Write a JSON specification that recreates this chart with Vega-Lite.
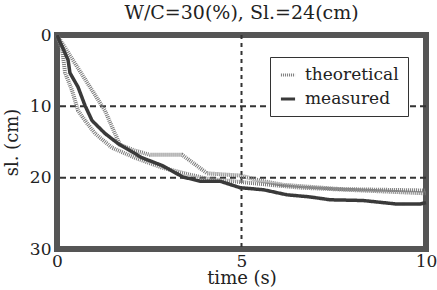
{
  "$schema": "https://vega.github.io/schema/vega-lite/v6.json",
  "width": 369,
  "height": 214,
  "autosize": {"type": "none"},
  "padding": {"left": 57, "top": 35, "right": 11, "bottom": 41},
  "title": {"text": "W/C=30(%), Sl.=24(cm)", "font": "DejaVu Serif", "fontSize": 19, "fontWeight": "normal", "color": "#222", "offset": 3},
  "config": {
    "view": {"stroke": "#555555", "strokeWidth": 6},
    "font": "DejaVu Serif",
    "axis": {"labelFont": "DejaVu Serif", "titleFont": "DejaVu Serif", "labelColor": "#222", "titleColor": "#222", "labelFontSize": 17, "titleFontSize": 18, "titleFontWeight": "normal", "ticks": false, "domain": false, "grid": false}
  },
  "datasets": {
    "curves": [
      {"type": "theoretical", "run": "tA", "t": 0, "sl": 0},
      {"type": "theoretical", "run": "tA", "t": 1.30, "sl": 10.6},
      {"type": "theoretical", "run": "tA", "t": 1.57, "sl": 13.8},
      {"type": "theoretical", "run": "tA", "t": 1.71, "sl": 15.4},
      {"type": "theoretical", "run": "tA", "t": 2.11, "sl": 16.2},
      {"type": "theoretical", "run": "tA", "t": 2.52, "sl": 16.8},
      {"type": "theoretical", "run": "tA", "t": 3.39, "sl": 16.8},
      {"type": "theoretical", "run": "tA", "t": 4.07, "sl": 19.4},
      {"type": "theoretical", "run": "tA", "t": 4.96, "sl": 19.7},
      {"type": "theoretical", "run": "tA", "t": 5.50, "sl": 20.4},
      {"type": "theoretical", "run": "tA", "t": 6.12, "sl": 21.0},
      {"type": "theoretical", "run": "tA", "t": 7.67, "sl": 21.6},
      {"type": "theoretical", "run": "tA", "t": 10, "sl": 21.8},
      {"type": "theoretical", "run": "tB", "t": 0, "sl": 0},
      {"type": "theoretical", "run": "tB", "t": 0.14, "sl": 2.1},
      {"type": "theoretical", "run": "tB", "t": 0.22, "sl": 5.3},
      {"type": "theoretical", "run": "tB", "t": 0.41, "sl": 7.8},
      {"type": "theoretical", "run": "tB", "t": 0.57, "sl": 10.6},
      {"type": "theoretical", "run": "tB", "t": 0.76, "sl": 12.0},
      {"type": "theoretical", "run": "tB", "t": 1.03, "sl": 13.8},
      {"type": "theoretical", "run": "tB", "t": 1.49, "sl": 15.8},
      {"type": "theoretical", "run": "tB", "t": 2.11, "sl": 17.2},
      {"type": "theoretical", "run": "tB", "t": 2.85, "sl": 18.6},
      {"type": "theoretical", "run": "tB", "t": 4.01, "sl": 20.1},
      {"type": "theoretical", "run": "tB", "t": 4.96, "sl": 20.6},
      {"type": "theoretical", "run": "tB", "t": 6.59, "sl": 21.4},
      {"type": "theoretical", "run": "tB", "t": 10, "sl": 22.2},
      {"type": "measured", "run": "m1", "t": 0, "sl": 0},
      {"type": "measured", "run": "m1", "t": 0.30, "sl": 3.5},
      {"type": "measured", "run": "m1", "t": 0.35, "sl": 5.3},
      {"type": "measured", "run": "m1", "t": 0.57, "sl": 7.3},
      {"type": "measured", "run": "m1", "t": 0.76, "sl": 9.9},
      {"type": "measured", "run": "m1", "t": 0.95, "sl": 12.0},
      {"type": "measured", "run": "m1", "t": 1.30, "sl": 13.8},
      {"type": "measured", "run": "m1", "t": 1.65, "sl": 15.2},
      {"type": "measured", "run": "m1", "t": 2.30, "sl": 17.2},
      {"type": "measured", "run": "m1", "t": 2.85, "sl": 18.3},
      {"type": "measured", "run": "m1", "t": 3.41, "sl": 19.9},
      {"type": "measured", "run": "m1", "t": 3.88, "sl": 20.5},
      {"type": "measured", "run": "m1", "t": 4.42, "sl": 20.5},
      {"type": "measured", "run": "m1", "t": 4.96, "sl": 21.4},
      {"type": "measured", "run": "m1", "t": 5.60, "sl": 21.7},
      {"type": "measured", "run": "m1", "t": 6.23, "sl": 22.4},
      {"type": "measured", "run": "m1", "t": 6.86, "sl": 22.7},
      {"type": "measured", "run": "m1", "t": 7.40, "sl": 23.1},
      {"type": "measured", "run": "m1", "t": 8.29, "sl": 23.2},
      {"type": "measured", "run": "m1", "t": 9.21, "sl": 23.7},
      {"type": "measured", "run": "m1", "t": 9.84, "sl": 23.7},
      {"type": "measured", "run": "m1", "t": 10, "sl": 23.5}
    ],
    "vgrid": [{"t": 5}],
    "hgrid": [{"sl": 10}, {"sl": 20}]
  },
  "layer": [
    {
      "data": {"name": "hgrid"},
      "mark": {"type": "rule", "color": "#333", "strokeWidth": 2, "strokeDash": [6, 4]},
      "encoding": {
        "y": {"field": "sl", "type": "quantitative", "scale": {"domain": [0, 30], "reverse": true, "nice": false}, "axis": {"values": [0, 10, 20, 30], "title": "sl.  (cm)", "labelPadding": 6, "titlePadding": 8}}
      }
    },
    {
      "data": {"name": "vgrid"},
      "mark": {"type": "rule", "color": "#333", "strokeWidth": 2, "strokeDash": [4, 4]},
      "encoding": {
        "x": {"field": "t", "type": "quantitative", "scale": {"domain": [0, 10], "nice": false}, "axis": {"values": [0, 5, 10], "title": "time  (s)", "labelPadding": 4, "titlePadding": 0, "labelFlush": false}}
      }
    },
    {
      "data": {"name": "curves"},
      "transform": [{"filter": "datum.type === 'theoretical'"}],
      "mark": {"type": "line", "strokeWidth": 4},
      "encoding": {
        "x": {"field": "t", "type": "quantitative", "scale": {"domain": [0, 10], "nice": false}, "axis": {"values": [0, 5, 10], "title": "time  (s)", "labelPadding": 4, "titlePadding": 0, "labelFlush": false}},
        "y": {"field": "sl", "type": "quantitative", "scale": {"domain": [0, 30], "reverse": true, "nice": false}, "axis": {"values": [0, 10, 20, 30], "title": "sl.  (cm)", "labelPadding": 6, "titlePadding": 8}},
        "detail": {"field": "run"},
        "color": {"field": "type", "type": "nominal", "scale": {"domain": ["theoretical", "measured"], "range": ["#7a7a7a", "#3a3a3a"]},
          "legend": {"title": null, "orient": "none", "legendX": 213, "legendY": 22, "strokeColor": "#333", "fillColor": "white", "padding": 9, "labelFontSize": 17, "labelFont": "DejaVu Serif", "labelColor": "#222", "symbolType": "stroke", "symbolSize": 200, "symbolStrokeWidth": 3, "rowPadding": 7, "labelOffset": 8}},
        "strokeDash": {"field": "type", "type": "nominal", "scale": {"domain": ["theoretical", "measured"], "range": [[1, 1], [1, 0]]},
          "legend": {"title": null, "orient": "none", "legendX": 213, "legendY": 22, "strokeColor": "#333", "fillColor": "white", "padding": 9, "labelFontSize": 17, "labelFont": "DejaVu Serif", "labelColor": "#222", "symbolType": "stroke", "symbolSize": 200, "symbolStrokeWidth": 3, "rowPadding": 7, "labelOffset": 8}}
      }
    },
    {
      "data": {"name": "curves"},
      "transform": [{"filter": "datum.type === 'measured'"}],
      "mark": {"type": "line", "strokeWidth": 3.5},
      "encoding": {
        "x": {"field": "t", "type": "quantitative", "scale": {"domain": [0, 10], "nice": false}, "axis": {"values": [0, 5, 10], "title": "time  (s)", "labelPadding": 4, "titlePadding": 0, "labelFlush": false}},
        "y": {"field": "sl", "type": "quantitative", "scale": {"domain": [0, 30], "reverse": true, "nice": false}, "axis": {"values": [0, 10, 20, 30], "title": "sl.  (cm)", "labelPadding": 6, "titlePadding": 8}},
        "detail": {"field": "run"},
        "color": {"field": "type", "type": "nominal", "scale": {"domain": ["theoretical", "measured"], "range": ["#7a7a7a", "#3a3a3a"]},
          "legend": {"title": null, "orient": "none", "legendX": 213, "legendY": 22, "strokeColor": "#333", "fillColor": "white", "padding": 9, "labelFontSize": 17, "labelFont": "DejaVu Serif", "labelColor": "#222", "symbolType": "stroke", "symbolSize": 200, "symbolStrokeWidth": 3, "rowPadding": 7, "labelOffset": 8}},
        "strokeDash": {"field": "type", "type": "nominal", "scale": {"domain": ["theoretical", "measured"], "range": [[1, 1], [1, 0]]},
          "legend": {"title": null, "orient": "none", "legendX": 213, "legendY": 22, "strokeColor": "#333", "fillColor": "white", "padding": 9, "labelFontSize": 17, "labelFont": "DejaVu Serif", "labelColor": "#222", "symbolType": "stroke", "symbolSize": 200, "symbolStrokeWidth": 3, "rowPadding": 7, "labelOffset": 8}}
      }
    }
  ]
}
